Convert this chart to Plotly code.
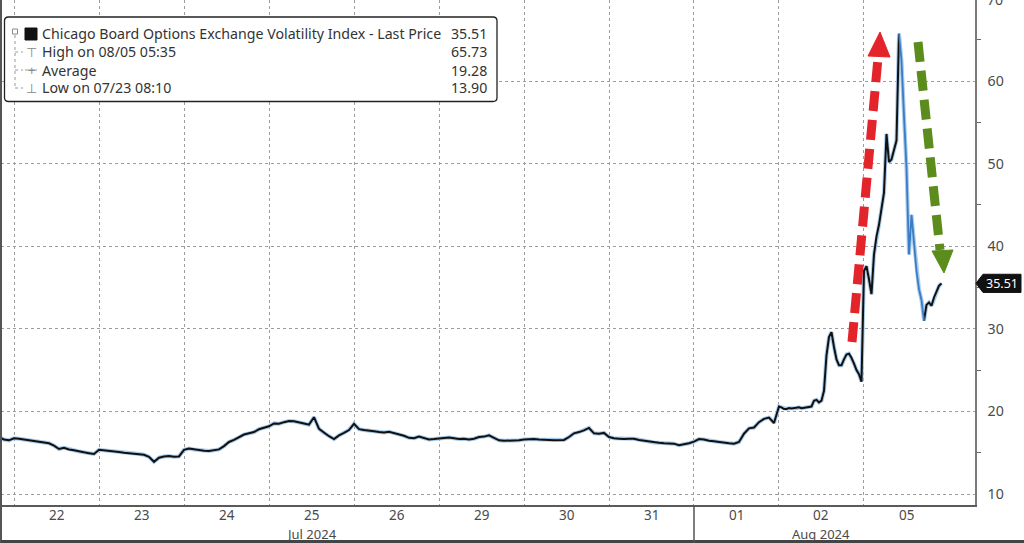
import plotly.graph_objects as go

# ---------------- data ----------------
day_labels = ["19", "22", "23", "24", "25", "26", "29", "30", "31", "01", "02", "05"]
month_under = {"25": "Jul 2024", "02": "Aug 2024"}

jul19 = [16.9, 16.6, 16.5]
jul22 = [16.75, 16.7, 16.6, 16.5, 16.45, 16.35, 16.25, 16.15, 15.85, 15.45, 15.6, 15.4, 15.3, 15.15, 15.05, 14.95, 14.85]
jul23 = [15.35, 15.3, 15.25, 15.15, 15.1, 15.0, 14.95, 14.9, 14.85, 14.75, 14.5, 13.9, 14.4, 14.55, 14.6, 14.5, 14.55]
jul24 = [15.35, 15.5, 15.4, 15.3, 15.25, 15.2, 15.3, 15.4, 15.8, 16.3, 16.55, 16.9, 17.2, 17.35, 17.5, 17.85, 18.0]
jul25 = [18.2, 18.55, 18.5, 18.7, 18.85, 18.8, 18.7, 18.55, 18.4, 19.3, 17.9, 17.4, 17.0, 16.65, 17.1, 17.4, 17.75]
jul26 = [18.5, 17.85, 17.75, 17.7, 17.6, 17.5, 17.45, 17.55, 17.4, 17.2, 17.05, 16.8, 16.75, 16.95, 16.8, 16.6, 16.65]
jul29 = [16.7, 16.8, 16.85, 16.75, 16.65, 16.7, 16.6, 16.7, 16.9, 16.95, 17.1, 16.8, 16.5, 16.45, 16.45, 16.5, 16.5]
jul30 = [16.6, 16.65, 16.65, 16.6, 16.6, 16.55, 16.5, 16.5, 16.55, 16.9, 17.35, 17.5, 17.7, 18.0, 17.35, 17.3, 17.4]
jul31 = [16.9, 16.75, 16.7, 16.65, 16.7, 16.7, 16.55, 16.45, 16.35, 16.25, 16.2, 16.15, 16.15, 16.1, 15.9, 16.0, 16.15]
aug01 = [16.35, 16.65, 16.6, 16.45, 16.4, 16.3, 16.25, 16.15, 16.1, 16.3, 17.3, 17.95, 18.05, 18.7, 19.1, 19.25, 18.6]
aug02 = [20.6, 20.5, 20.3, 20.3, 20.4, 20.35, 20.4, 20.4, 20.5, 20.4, 20.45, 20.5, 20.55, 20.6, 21.3, 21.4, 21.1,
         21.3, 22.5, 26.8, 29.0, 29.6, 27.8, 26.3, 25.6, 25.6, 26.3, 26.9, 27.0, 26.5, 25.8, 25.0, 24.5, 23.6]
aug05 = [37.0, 37.6, 36.0, 34.2, 39.0, 41.2, 42.6, 44.5, 46.5, 53.6, 50.2, 50.5, 51.8, 52.8, 65.73, 62.5, 55.8,
         49.5, 39.0, 43.8, 40.5, 37.0, 34.8, 33.5, 31.0, 32.9, 33.2, 32.8, 33.8, 34.4, 35.2, 35.51]

series = [jul19, jul22, jul23, jul24, jul25, jul26, jul29, jul30, jul31, aug01, aug02, aug05]
samples_per_day = [17, 17, 17, 17, 17, 17, 17, 17, 17, 17, 34, 34]

legend_title = "Chicago Board Options Exchange Volatility Index - Last Price"
last_price = 35.51
high_label, high_value = "High on 08/05 05:35", 65.73
avg_label, avg_value = "Average", 19.28
low_label, low_value = "Low on 07/23 08:10", 13.90

y_ticks = [10, 20, 30, 40, 50, 60]
y_minor = [15, 25, 35, 45, 55, 65]

# ---------------- build x positions (day index + fraction of session) ----------------
xs, ys, day_of_point = [], [], []
for k, (vals, n) in enumerate(zip(series, samples_per_day)):
    day = k - 1
    start = n - len(vals) if k == 0 else 0
    for i, v in enumerate(vals):
        xs.append(day + (start + i) / n)
        ys.append(v)
        day_of_point.append((k, i))

# falling part after the high drawn only in blue
FALL = (14, 24)
last_k = len(series) - 1
black_y = [None if (k == last_k and FALL[0] < i < FALL[1]) else v
           for (k, i), v in zip(day_of_point, ys)]
blue_y = [v if (k == last_k and FALL[0] <= i <= FALL[1]) else None
          for (k, i), v in zip(day_of_point, ys)]

# ---------------- geometry ----------------
W, H = 1024, 543
ML, MR, MT, MB = 1, 49, 0, 38
PW, PH = W - ML - MR, H - MT - MB
X0, X1 = -0.153, 11.306
Y0, Y1 = 8.67, 69.82
FONT = "Noto Sans, DejaVu Sans, sans-serif"
FS = 14.2


def px2p(px):
    return (px - ML) / PW


def py2p(py):
    return (MT + PH - py) / PH


def px2x(px):
    return X0 + (px - ML) / PW * (X1 - X0)


def py2y(py):
    return Y1 - (py - MT) / PH * (Y1 - Y0)


fig = go.Figure()
fig.add_trace(go.Scatter(x=xs, y=ys, mode="lines", line=dict(color="#a8cbec", width=4),
                         hoverinfo="skip", showlegend=False))
fig.add_trace(go.Scatter(x=xs, y=black_y, mode="lines", line=dict(color="#111111", width=2),
                         connectgaps=False, showlegend=False))
fig.add_trace(go.Scatter(x=xs, y=blue_y, mode="lines", line=dict(color="#3b7cc6", width=1.8),
                         connectgaps=False, showlegend=False))

# tick arrow markers on right axis
fig.add_trace(go.Scatter(x=[px2x(980)] * len(y_ticks), y=y_ticks, mode="markers",
                         marker=dict(symbol="triangle-right", size=7, color="#111"),
                         cliponaxis=False, showlegend=False, hoverinfo="skip"))

fig.update_layout(
    width=W, height=H, margin=dict(l=ML, r=MR, t=MT, b=MB),
    plot_bgcolor="white", paper_bgcolor="white",
    font=dict(family=FONT, size=FS, color="#4a4a4a"),
    xaxis=dict(range=[X0, X1], showticklabels=False, showgrid=False, ticks="",
               showline=True, linecolor="#5a5a5a", linewidth=1.5, zeroline=False,
               minor=dict(tickvals=list(range(0, 11)), showgrid=True, griddash="dot",
                          gridcolor="#9c9c9c", gridwidth=1, ticks="")),
    yaxis=dict(side="right", range=[Y0, Y1], tickvals=y_ticks, showgrid=True, griddash="dot",
               gridcolor="#9c9c9c", gridwidth=1, zeroline=False,
               ticks="outside", ticklen=8, tickcolor="rgba(0,0,0,0)",
               showline=True, linecolor="#7a7a7a", linewidth=1.5,
               tickfont=dict(size=FS, color="#4a4a4a"),
               minor=dict(tickvals=y_minor, ticks="outside", ticklen=4, tickcolor="#666", tickwidth=1)),
)

shapes = []
ann = []

# day labels and month labels under the axis
for i, d in enumerate(day_labels[1:]):
    ann.append(dict(xref="x", yref="paper", x=i + 0.5, y=py2p(514.5), text=d,
                    showarrow=False, xanchor="center", yanchor="middle",
                    font=dict(size=13.5, color="#4a4a4a")))
for d, m in month_under.items():
    ann.append(dict(xref="x", yref="paper", x=day_labels.index(d) - 1 + 0.5, y=py2p(533.5), text=m,
                    showarrow=False, xanchor="center", yanchor="middle",
                    font=dict(size=13, color="#4a4a4a")))

# frame lines
shapes.append(dict(type="line", xref="paper", yref="paper", x0=px2p(1), x1=px2p(1),
                   y0=py2p(543), y1=1, line=dict(color="#555", width=2)))
shapes.append(dict(type="line", xref="paper", yref="paper", x0=0, x1=1.06,
                   y0=py2p(541.5), y1=py2p(541.5), line=dict(color="#444", width=3)))
# month separator below the axis
shapes.append(dict(type="line", xref="x", yref="paper", x0=8, x1=8, y0=py2p(543), y1=0,
                   line=dict(color="#555", width=1.5)))

# last-price tag
tag_h = 1.1
tag_path = "M {a},{y} L {b},{yt} L {c},{yt} L {c},{yb} L {b},{yb} Z".format(
    a=px2p(976), b=px2p(983), c=px2p(1021), y=last_price, yt=last_price + tag_h, yb=last_price - tag_h)
shapes.append(dict(type="path", xref="paper", yref="y", path=tag_path,
                   fillcolor="#111", line=dict(color="#111", width=1)))
ann.append(dict(xref="paper", yref="y", x=px2p(1002), y=last_price, text=f"{last_price:.2f}",
                showarrow=False, font=dict(color="white", size=12.5), xanchor="center", yanchor="middle"))
# partially visible 70 label at the top (cut by the top edge, as in the reference)
ann.append(dict(xref="paper", yref="paper", x=px2p(985), y=py2p(-1.0), text="70", showarrow=False,
                xanchor="left", yanchor="middle", font=dict(size=FS, color="#4a4a4a")))

# red rising arrow and green falling arrow (dashed shafts with heads)
red, green = "#e3242b", "#5b8c1c"
shapes.append(dict(type="line", xref="x", yref="y", x0=px2x(852), y0=py2y(342), x1=px2x(878), y1=py2y(58),
                   line=dict(color=red, width=9, dash="20px,9px")))
shapes.append(dict(type="path", xref="x", yref="y",
                   path="M {},{} L {},{} L {},{} Z".format(px2x(868), py2y(56), px2x(880), py2y(32),
                                                          px2x(890), py2y(57)),
                   fillcolor=red, line=dict(color=red, width=1)))
shapes.append(dict(type="line", xref="x", yref="y", x0=px2x(918), y0=py2y(42), x1=px2x(940), y1=py2y(250),
                   line=dict(color=green, width=9, dash="20px,9px")))
shapes.append(dict(type="path", xref="x", yref="y",
                   path="M {},{} L {},{} L {},{} Z".format(px2x(932), py2y(251), px2x(944), py2y(273),
                                                          px2x(953), py2y(250)),
                   fillcolor=green, line=dict(color=green, width=1)))

# legend box with rounded corners
bx0, bx1, by0, by1, r = 4.5, 497, 17, 101.5, 4
pts = [
    ("M", bx0 + r, by0), ("L", bx1 - r, by0), ("Q", bx1, by0, bx1, by0 + r), ("L", bx1, by1 - r),
    ("Q", bx1, by1, bx1 - r, by1), ("L", bx0 + r, by1), ("Q", bx0, by1, bx0, by1 - r),
    ("L", bx0, by0 + r), ("Q", bx0, by0, bx0 + r, by0),
]
path = ""
for p in pts:
    cmd = p[0]
    coords = p[1:]
    segs = []
    for j in range(0, len(coords), 2):
        segs.append(f"{px2p(coords[j]):.5f},{py2p(coords[j + 1]):.5f}")
    path += cmd + " " + " ".join(segs) + " "
shapes.append(dict(type="path", xref="paper", yref="paper", path=path + "Z",
                   fillcolor="white", line=dict(color="#222", width=1.3), layer="above"))

# legend tree decorations
shapes.append(dict(type="line", xref="paper", yref="paper", x0=px2p(15), x1=px2p(15), y0=py2p(35), y1=py2p(88),
                   line=dict(color="#999", width=1, dash="dot"), layer="above"))
for ry in (52, 70, 88):
    shapes.append(dict(type="line", xref="paper", yref="paper", x0=px2p(15), x1=px2p(23), y0=py2p(ry), y1=py2p(ry),
                       line=dict(color="#999", width=1, dash="dot"), layer="above"))
shapes.append(dict(type="rect", xref="paper", yref="paper", x0=px2p(12.5), x1=px2p(17.5), y0=py2p(29), y1=py2p(34),
                   fillcolor="white", line=dict(color="#888", width=1), layer="above"))
shapes.append(dict(type="rect", xref="paper", yref="paper", x0=px2p(25), x1=px2p(37), y0=py2p(28), y1=py2p(40),
                   fillcolor="#111", line=dict(color="#111", width=1), layer="above"))
# average symbol  -+-
shapes.append(dict(type="line", xref="paper", yref="paper", x0=px2p(25), x1=px2p(37), y0=py2p(70), y1=py2p(70),
                   line=dict(color="#999", width=1), layer="above"))

rows = [(33.5, legend_title, f"{last_price:.2f}"), (52, high_label, f"{high_value:.2f}"),
        (70, avg_label, f"{avg_value:.2f}"), (87.5, low_label, f"{low_value:.2f}")]
for ry, lab, val in rows:
    ann.append(dict(xref="paper", yref="paper", x=px2p(40), y=py2p(ry), text=lab, showarrow=False,
                    xanchor="left", yanchor="middle", font=dict(size=FS, color="#333")))
    ann.append(dict(xref="paper", yref="paper", x=px2p(489), y=py2p(ry), text=val, showarrow=False,
                    xanchor="right", yanchor="middle", font=dict(size=FS, color="#333")))
for ry, sym in ((52, "⊤"), (70, "+"), (88, "⊥")):
    ann.append(dict(xref="paper", yref="paper", x=px2p(31), y=py2p(ry), text=sym, showarrow=False,
                    xanchor="center", yanchor="middle", font=dict(size=13, color="#888")))

fig.update_layout(shapes=shapes, annotations=ann)
fig.write_html("out.html")
